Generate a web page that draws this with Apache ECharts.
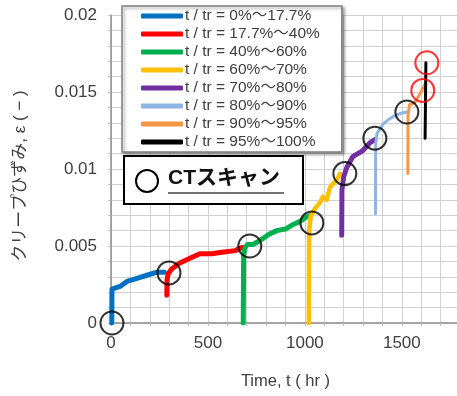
<!DOCTYPE html>
<html>
<head>
<meta charset="utf-8">
<script src="https://cdn.jsdelivr.net/npm/echarts@6/dist/echarts.min.js"></script>
<style>
html,body{margin:0;padding:0;background:#fff;}
#chart{width:457px;height:396px;}
</style>
</head>
<body>
<div id="chart"></div>
<script>
// ---- data (time in hr, creep strain) ----
const legendNames = [
  't / tr = 0%～17.7%',
  't / tr = 17.7%～40%',
  't / tr = 40%～60%',
  't / tr = 60%～70%',
  't / tr = 70%～80%',
  't / tr = 80%～90%',
  't / tr = 90%～95%',
  't / tr = 95%～100%'
];
const seg1 = [[4,0],[5,0.0022],[15,0.0023],[50,0.0024],[82,0.0027],[134,0.0029],[185,0.0031],[237,0.0033],[275,0.0033]];
const seg2 = [[288,0.0018],[289,0.0028],[295,0.0032],[313,0.0035],[355,0.0039],[407,0.0042],[459,0.0045],[520,0.0045],[572,0.0046],[640,0.0047],[675,0.0049],[690,0.0049]];
const seg3 = [[682,0],[684,0.0044],[692,0.0049],[705,0.0051],[732,0.0051],[760,0.0053],[785,0.0055],[820,0.0058],[855,0.006],[900,0.0061],[940,0.0064],[975,0.0066],[1010,0.0069],[1030,0.0070]];
const seg4 = [[1020,0],[1022,0.006],[1030,0.0069],[1050,0.0074],[1077,0.0078],[1093,0.0082],[1113,0.008],[1129,0.0088],[1150,0.0091],[1165,0.0093],[1182,0.0097]];
const seg5 = [[1190,0.0057],[1191,0.0086],[1200,0.0095],[1216,0.0101],[1247,0.0108],[1299,0.0112],[1335,0.0117],[1360,0.0119]];
const seg6 = [[1364,0.0071],[1365,0.0116],[1372,0.0123],[1402,0.0129],[1430,0.0132],[1454,0.0134],[1490,0.0136],[1526,0.0137]];
const seg7 = [[1531,0.0097],[1532,0.0135],[1540,0.0142],[1567,0.0143],[1585,0.0147],[1603,0.0151],[1620,0.0155]];
const seg8 = [[1620,0.012],[1624,0.0169]];
const ctBlack = [[5,0],[299,0.00325],[716,0.005],[1036,0.0065],[1206,0.0097],[1361,0.012],[1526,0.0137]];
const ctRed = [[1608,0.0151],[1629,0.0169]];
const xTicks = [0,500,1000,1500];
const yTicks = [0,0.005,0.01,0.015,0.02];

const segs = [seg1,seg2,seg3,seg4,seg5,seg6,seg7,seg8];
const colors = ['#0070C0','#FF0000','#00B050','#FFC000','#7030A0','#8EB4E3','#F79646','#000000'];
const widths = [5,5,5,4.5,5,3,3,3];

const chart = echarts.init(document.getElementById('chart'));
const series = segs.map((d,i)=>({
  name: legendNames[i], type:'line', data:d, showSymbol:false, symbol:'none',
  lineStyle:{color:colors[i], width:widths[i], cap:'round', join:'round'},
  itemStyle:{color:colors[i]}, z: 3, animation:false
}));
series.push({
  type:'scatter', data:ctBlack, symbol:'circle', symbolSize:23, z:5, animation:false,
  itemStyle:{color:'rgba(0,0,0,0)', borderColor:'#000', borderWidth:2}
});
series.push({
  type:'scatter', data:ctRed, symbol:'circle', symbolSize:23, z:5, animation:false,
  itemStyle:{color:'rgba(0,0,0,0)', borderColor:'#FF0000', borderWidth:2}
});

const font = 'Liberation Sans, Arial, Noto Sans CJK JP, sans-serif';
chart.setOption({
  animation:false,
  backgroundColor:'#fff',
  grid:{left:111, top:15, width:349, height:308, containLabel:false, outerBoundsMode:'none'},
  xAxis:{
    type:'value', min:0, max:1800, interval:100,
    name:'Time, t ( hr )', nameLocation:'middle', nameGap:50,
    nameTextStyle:{fontFamily:font, fontSize:16.5, color:'#404040'},
    axisLine:{show:true, lineStyle:{color:'#8c8c8c', width:1.5}},
    axisTick:{show:true, length:3, lineStyle:{color:'#bfbfbf'}},
    axisLabel:{margin:12, fontFamily:font, fontSize:17, color:'#404040',
      formatter:v=> xTicks.indexOf(v)>=0 ? String(v) : ''},
    splitLine:{show:true, lineStyle:{color:'#d0d0d0', width:1}}
  },
  yAxis:{
    type:'value', min:0, max:0.02, interval:0.001,
    axisLine:{show:true, lineStyle:{color:'#8c8c8c', width:1.5}},
    axisTick:{show:true, length:3, lineStyle:{color:'#bfbfbf'}},
    axisLabel:{margin:14, fontFamily:font, fontSize:17, color:'#404040',
      formatter:v=>{ const r=Math.round(v*1000)/1000; return yTicks.some(t=>Math.abs(t-r)<1e-9) ? String(r) : ''; }},
    splitLine:{show:true, lineStyle:{color:'#d0d0d0', width:1}}
  },
  legend:{
    data:legendNames, orient:'vertical', left:122, top:6,
    itemWidth:42, itemHeight:5, itemGap:0, icon:'roundRect', selectedMode:false,
    padding:[1,22,1,19], backgroundColor:'#fff', borderColor:'#7f7f7f', borderWidth:1.5,
    shadowColor:'rgba(0,0,0,0.35)', shadowBlur:3, shadowOffsetX:2, shadowOffsetY:2,
    textStyle:{fontFamily:font, fontSize:15.5, color:'#404040', lineHeight:18, padding:[0,0,0,-3]}
  },
  graphic:[
    {type:'text', x:20, y:176, rotation:Math.PI/2, z:11,
     style:{text:'クリープひずみ, ε ( − )', fontFamily:font, fontSize:17, fill:'#404040',
            align:'center', verticalAlign:'middle'}},
    {type:'rect', left:123, top:155, shape:{width:179, height:48}, z:10,
     style:{fill:'#fff', stroke:'#000', lineWidth:2}},
    {type:'circle', shape:{cx:147, cy:181, r:11}, z:11,
     style:{fill:'none', stroke:'#000', lineWidth:2}},
    {type:'text', left:168, top:168, z:11,
     style:{text:'CTスキャン', fontFamily:font, fontSize:21, fontWeight:'bold', fill:'#111'}},
    {type:'line', shape:{x1:168, y1:193, x2:284, y2:193}, z:11,
     style:{stroke:'#444', lineWidth:1.5}}
  ],
  series:series
});
</script>
</body>
</html>
